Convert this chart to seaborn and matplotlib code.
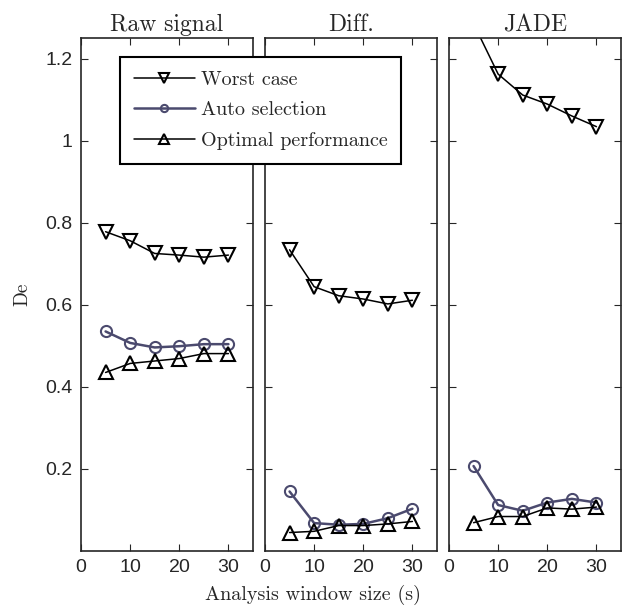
import matplotlib
matplotlib.use("Agg")
import matplotlib.pyplot as plt
import seaborn as sns
import pandas as pd

# window sizes (s)
window = [5, 10, 15, 20, 25, 30]
panels = ["Raw signal", "Diff.", "JADE"]
series = ["Worst case", "Auto selection", "Optimal performance"]

raw_worst = [0.778, 0.756, 0.725, 0.721, 0.716, 0.721]
raw_auto = [0.535, 0.507, 0.496, 0.499, 0.504, 0.504]
raw_opt = [0.435, 0.457, 0.463, 0.469, 0.481, 0.481]

diff_worst = [0.734, 0.644, 0.622, 0.614, 0.602, 0.611]
diff_auto = [0.145, 0.068, 0.064, 0.066, 0.080, 0.103]
diff_opt = [0.045, 0.048, 0.062, 0.062, 0.066, 0.072]

jade_worst = [1.285, 1.162, 1.111, 1.089, 1.060, 1.034]
jade_auto = [0.207, 0.112, 0.098, 0.118, 0.127, 0.118]
jade_opt = [0.069, 0.084, 0.084, 0.105, 0.102, 0.107]

data = {
    "Raw signal": [raw_worst, raw_auto, raw_opt],
    "Diff.": [diff_worst, diff_auto, diff_opt],
    "JADE": [jade_worst, jade_auto, jade_opt],
}

colors = ["black", "#4b4a6e", "black"]
markers = ["v", "o", "^"]
msizes = [10, 8, 10]
lwidths = [1.1, 1.8, 1.1]

sns.set_style("ticks")
serif = ["cmr10", "DejaVu Serif"]
sans = ["Liberation Sans", "DejaVu Sans"]
plt.rcParams["font.family"] = sans
plt.rcParams["axes.formatter.use_mathtext"] = True

fig = plt.figure(figsize=(6.27, 6.08), dpi=100)
lefts = [81 / 627, 265 / 627, 449 / 627]
axes = []
for i, name in enumerate(panels):
    ax = fig.add_axes([lefts[i], 1 - 551 / 608, 172 / 627, (551 - 38) / 608])
    axes.append(ax)
    for j, s in enumerate(series):
        df = pd.DataFrame({"window": window, "De": data[name][j]})
        sns.lineplot(data=df, x="window", y="De", ax=ax, color=colors[j],
                     marker=markers[j], markersize=msizes[j],
                     markerfacecolor="none", markeredgecolor=colors[j],
                     markeredgewidth=1.5, linewidth=lwidths[j], label=s,
                     legend=False)
    ax.set_xlim(0, 35)
    ax.set_ylim(0, 1.25)
    ax.set_xticks([0, 10, 20, 30])
    ax.set_yticks([0.2, 0.4, 0.6, 0.8, 1.0, 1.2])
    ax.set_yticklabels(["0.2", "0.4", "0.6", "0.8", "1", "1.2"])
    ax.tick_params(direction="in", top=True, right=True, length=5,
                   width=0.8, labelsize=14, pad=6)
    if i > 0:
        ax.tick_params(labelleft=False)
    for sp in ax.spines.values():
        sp.set_linewidth(1.2)
        sp.set_visible(True)
    ax.set_title(name, family=serif, fontsize=17, pad=5)
    ax.set_xlabel("")
    ax.set_ylabel("")

axes[0].set_ylabel("De", family=serif, fontsize=14, labelpad=10)
fig.text(313 / 627, 1 - 595 / 608, "Analysis window size (s)", family=serif,
         fontsize=14.5, ha="center", va="center")

handles, labels = axes[0].get_legend_handles_labels()
leg = fig.legend(handles, labels, loc="upper left",
                 bbox_to_anchor=(120 / 627, 1 - 57 / 608),
                 borderaxespad=0,
                 prop={"family": serif, "size": 14.5}, fancybox=False,
                 framealpha=1, edgecolor="black", markerscale=0.65,
                 handlelength=3.0, handletextpad=0.3, borderpad=0.7,
                 labelspacing=0.6)
leg.get_frame().set_linewidth(1.5)

fig.savefig("out.png", dpi=100)
